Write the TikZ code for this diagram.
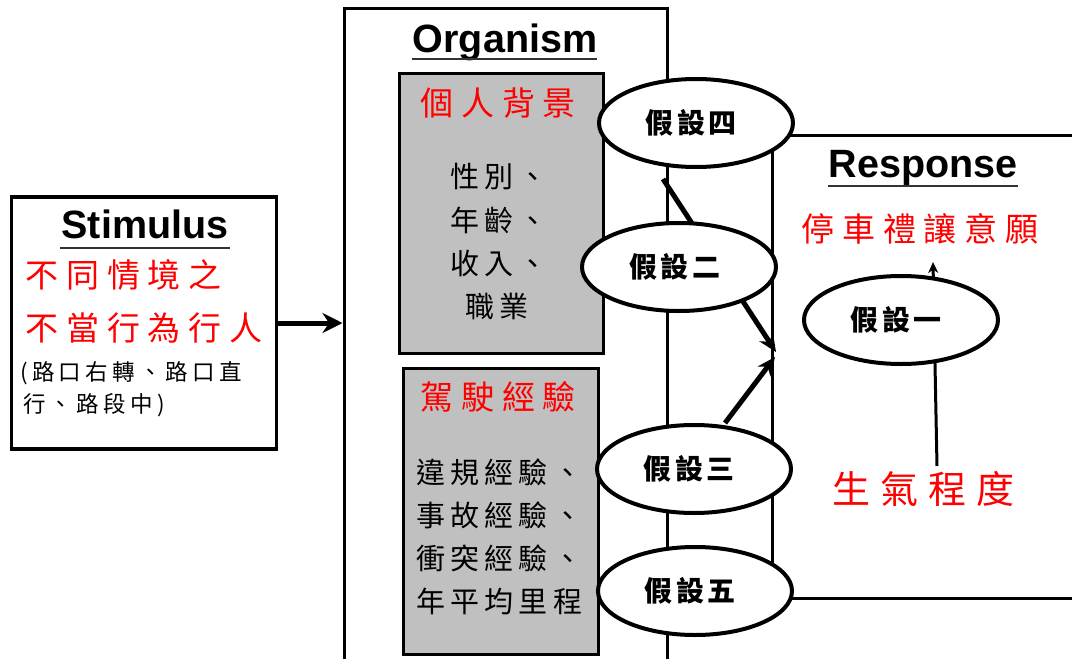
\documentclass[tikz,border=0pt]{standalone}
\usepackage{fontspec}
\setmainfont{Liberation Sans}
\newfontfamily\cjk{Noto Sans CJK TC}
\usetikzlibrary{shapes.geometric,arrows.meta}
\definecolor{boxgray}{RGB}{192,192,192}
\definecolor{txtred}{RGB}{255,0,0}
\begin{document}
\begin{tikzpicture}[x=1pt,y=-1pt,
  frame/.style={draw,line width=3pt,inner sep=0pt},
  graybox/.style={draw,fill=boxgray,line width=3pt,inner sep=0pt},
  hyp/.style={ellipse,draw,fill=white,line width=4pt,minimum width=194pt,minimum height=88pt,inner sep=0pt,
    font=\cjk\bfseries\fontsize{28}{30}\selectfont\addfontfeatures{LetterSpace=14}},
  ttl/.style={anchor=base,inner sep=0pt,font=\bfseries\fontsize{39.5}{42}\selectfont},
  uline/.style={line width=2pt,draw=black!80},
  redbig/.style={anchor=west,inner sep=0pt,text=txtred,
    font=\cjk\fontsize{33}{36}\selectfont\addfontfeatures{LetterSpace=24}},
  redhuge/.style={anchor=west,inner sep=0pt,text=txtred,
    font=\cjk\fontsize{38}{42}\selectfont\addfontfeatures{LetterSpace=27}},
  bodytxt/.style={anchor=west,inner sep=0pt,
    font=\cjk\fontsize{29}{32}\selectfont\addfontfeatures{LetterSpace=18}},
  smalltxt/.style={anchor=west,inner sep=0pt,
    font=\cjk\fontsize{22.5}{25}\selectfont\addfontfeatures{LetterSpace=19}},
  bigarrow/.style={line width=5pt,-{Stealth[length=20pt,width=20pt]}},
  midarrow/.style={line width=5pt,-{Stealth[length=18pt,width=16pt]}},
  thinarrow/.style={line width=3pt,-{Stealth[length=11pt,width=10pt]}}
]
\useasboundingbox (0,0) rectangle (1072,659);

% frames
\node[frame,minimum width=323pt,minimum height=700pt] (org) at (505.5,358) {};
\node[frame,minimum width=340pt,minimum height=463pt] (resp) at (942,366.5) {};
\node[draw,line width=3.5pt,inner sep=0pt,minimum width=265pt,minimum height=252pt] (stim) at (144,323) {};

% gray boxes
\node[graybox,minimum width=204pt,minimum height=280pt] (g1) at (501.5,213) {};
\node[graybox,minimum width=195pt,minimum height=286pt] (g2) at (501,511) {};

% connectors
\draw[bigarrow] (stim.east) -- (stim.east -| org.west);
\coordinate (a1s) at (663,179);
\coordinate (a1e) at (776,352);
\coordinate (a2s) at (725,423);
\coordinate (a2e) at (775,357);
\coordinate (a3s) at (937,466);
\coordinate (a3e) at (933,262);
\draw[midarrow] (a1s) -- (a1e);
\draw[midarrow] (a2s) -- (a2e);
\draw[thinarrow] (a3s) -- (a3e);

% hypothesis ellipses
\node[hyp] (h4) at (696,123) {\kern-10pt 假設四};
\node[hyp] (h2) at (679,267) {\kern-8pt 假設二};
\node[hyp] (h3) at (694,469) {\kern-10pt 假設三};
\node[hyp] (h5) at (695,591) {\kern-10pt 假設五};
\node[hyp] (h1) at (901,320) {\kern-10pt 假設一};

% titles
\node[ttl] (tstim) at (145,238) {Stimulus};
\draw[uline] (60,248) -- (230,248);
\node[ttl] (torg) at (505,52) {Organism};
\draw[uline] (412,59) -- (597,59);
\node[ttl] (tresp) at (923,177) {Response};
\draw[uline] (828,186) -- (1018,186);

% stimulus texts
\node[redbig] (s1) at (25,275) {不同情境之};
\node[redbig] (s2) at (25,328) {不當行為行人};
\node[smalltxt] (s3) at (20,373) {(路口右轉、路口直};
\node[smalltxt] (s4) at (23,405) {行、路段中)};

% organism texts
\node[redbig] (o1) at (420,103) {個人背景};
\node[bodytxt] (o2) at (450,177) {性別、};
\node[bodytxt] (o3) at (450,220) {年齡、};
\node[bodytxt] (o4) at (450,263) {收入、};
\node[bodytxt] (o5) at (465,306) {職業};
\node[redbig] (o6) at (420,397) {駕駛經驗};
\node[bodytxt] (o7) at (416,472) {違規經驗、};
\node[bodytxt] (o8) at (416,515) {事故經驗、};
\node[bodytxt] (o9) at (416,558) {衝突經驗、};
\node[bodytxt] (o10) at (416,601) {年平均里程};

% response texts
\node[redbig] (r1) at (801,229) {停車禮讓意願};
\node[redhuge] (r2) at (832,489) {生氣程度};
\end{tikzpicture}
\end{document}
